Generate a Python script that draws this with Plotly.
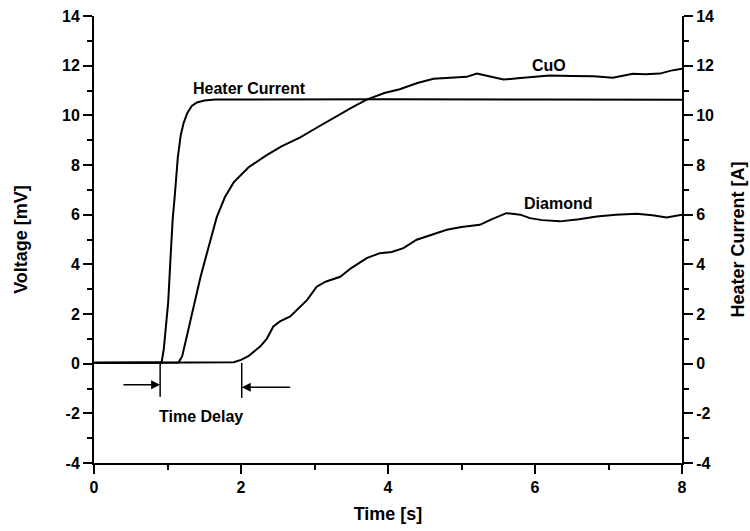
import plotly.graph_objects as go

# Heater current step (A) versus time (s)
heater_t = [0.0, 0.5, 0.92, 0.95, 0.98, 1.01, 1.04, 1.07, 1.10, 1.14, 1.18, 1.22, 1.27,
            1.33, 1.40, 1.50, 1.65, 2.5, 4.0, 6.0, 8.0]
heater_a = [0.05, 0.05, 0.05, 0.6, 1.5, 2.5, 4.2, 5.8, 6.8, 8.3, 9.2, 9.7, 10.1,
            10.38, 10.52, 10.6, 10.64, 10.65, 10.65, 10.64, 10.63]

# CuO sensor voltage (mV)
cuo_t = [0.0, 1.0, 1.15, 1.2, 1.27, 1.35, 1.45, 1.55, 1.67, 1.78, 1.90, 2.1, 2.35, 2.55,
         2.8, 3.0, 3.26, 3.5, 3.71, 3.95, 4.16, 4.4, 4.62, 4.85, 5.07, 5.21, 5.35, 5.57,
         5.8, 6.0, 6.2, 6.5, 6.8, 7.06, 7.33, 7.5, 7.7, 7.85, 8.0]
cuo_v = [0.03, 0.03, 0.05, 0.3, 1.2, 2.3, 3.5, 4.6, 5.9, 6.7, 7.3, 7.9, 8.4, 8.75,
         9.1, 9.45, 9.9, 10.3, 10.63, 10.9, 11.05, 11.3, 11.47, 11.5, 11.55, 11.68, 11.58, 11.44,
         11.5, 11.55, 11.6, 11.58, 11.57, 11.51, 11.67, 11.65, 11.68, 11.8, 11.88]

# Diamond sensor voltage (mV)
dia_t = [0.0, 1.5, 1.9, 2.0, 2.1, 2.26, 2.35, 2.44, 2.53, 2.67, 2.8, 2.9, 3.03, 3.15,
         3.35, 3.5, 3.71, 3.89, 4.05, 4.21, 4.39, 4.6, 4.8, 5.0, 5.25, 5.4, 5.61, 5.8,
         5.93, 6.1, 6.34, 6.6, 6.84, 7.1, 7.38, 7.6, 7.79, 8.0]
dia_v = [0.03, 0.03, 0.06, 0.15, 0.3, 0.69, 1.0, 1.5, 1.7, 1.9, 2.3, 2.57, 3.1, 3.3,
         3.5, 3.85, 4.25, 4.45, 4.5, 4.65, 4.99, 5.2, 5.39, 5.5, 5.59, 5.8, 6.06, 6.0,
         5.86, 5.78, 5.73, 5.82, 5.93, 6.0, 6.04, 5.98, 5.89, 6.0]

y_ticks = [-4, -2, 0, 2, 4, 6, 8, 10, 12, 14]
y_tick_text = ["-4", "-2", "0", "2", "4", "6", "8", "10", "12", "14"]
x_ticks = [0, 2, 4, 6, 8]

FONT = "Arial, Liberation Sans, sans-serif"
line_style = dict(color="black", width=2)

fig = go.Figure()
fig.add_trace(go.Scatter(x=heater_t, y=heater_a, mode="lines", line=line_style,
                         name="Heater Current", yaxis="y2"))
fig.add_trace(go.Scatter(x=cuo_t, y=cuo_v, mode="lines", line=line_style, name="CuO"))
fig.add_trace(go.Scatter(x=dia_t, y=dia_v, mode="lines", line=line_style, name="Diamond"))

axis_common = dict(
    showgrid=False, zeroline=False, showline=True, linecolor="black", linewidth=2,
    ticks="outside", ticklen=9, tickwidth=2, tickcolor="black", automargin=False,
    tickfont=dict(family=FONT, size=16, color="black", weight="bold"),
    minor=dict(dtick=1, ticks="outside", ticklen=5, tickwidth=1.5, tickcolor="black"),
)
title_font = dict(family=FONT, size=18, color="black", weight="bold")

fig.update_layout(
    width=750, height=531,
    margin=dict(l=94, r=68, t=16, b=68),
    paper_bgcolor="white", plot_bgcolor="white",
    showlegend=False,
    font=dict(family=FONT, color="black"),
    xaxis=dict(range=[0, 8], tickvals=x_ticks,
               title=dict(text="Time [s]", standoff=12, font=title_font),
               **axis_common),
    yaxis=dict(range=[-4, 14], tickvals=y_ticks, ticktext=y_tick_text,
               title=dict(text="Voltage [mV]", standoff=30, font=title_font),
               **axis_common),
    yaxis2=dict(range=[-4, 14], tickvals=y_ticks, ticktext=y_tick_text,
                overlaying="y", side="right",
                title=dict(text="Heater Current [A]", standoff=18, font=title_font),
                **axis_common),
)

label_font = dict(family=FONT, size=16, color="black", weight="bold")
for text, x, y in [("Heater Current", 2.11, 11.1), ("CuO", 6.19, 12.0),
                   ("Diamond", 6.31, 6.45), ("Time Delay", 1.45, -2.13)]:
    fig.add_annotation(x=x, y=y, text=text, showarrow=False, font=label_font)

# Time-delay markers: two vertical bars with arrows pointing at them
fig.add_shape(type="line", x0=0.90, x1=0.90, y0=0.0, y1=-1.33,
              line=dict(color="black", width=1.5))
fig.add_shape(type="line", x0=2.01, x1=2.01, y0=0.03, y1=-1.38,
              line=dict(color="black", width=1.5))
fig.add_annotation(x=0.90, y=-0.85, ax=0.38, ay=-0.85, axref="x", ayref="y",
                   text="", showarrow=True, arrowhead=2, arrowsize=1.2,
                   arrowwidth=1.5, arrowcolor="black")
fig.add_annotation(x=2.01, y=-0.95, ax=2.69, ay=-0.95, axref="x", ayref="y",
                   text="", showarrow=True, arrowhead=2, arrowsize=1.2,
                   arrowwidth=1.5, arrowcolor="black")

fig.write_html("out.html")
